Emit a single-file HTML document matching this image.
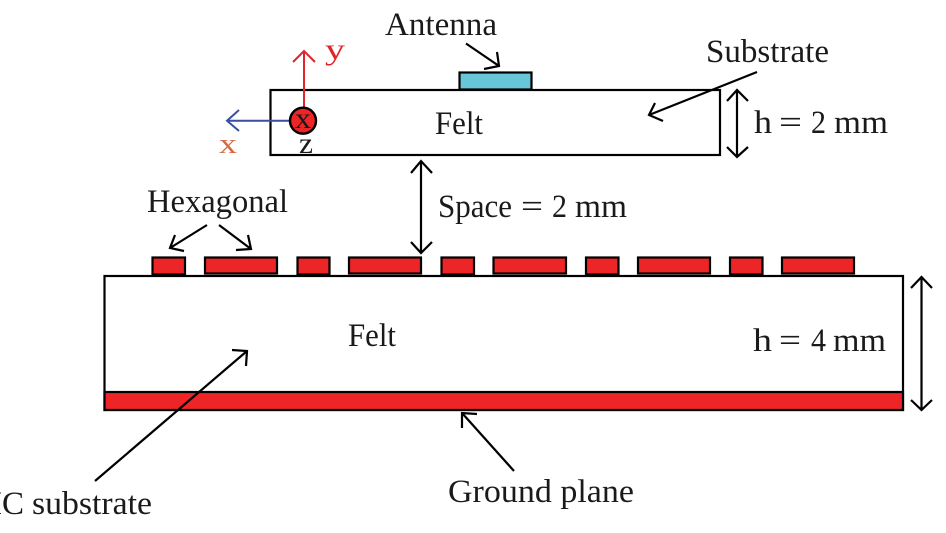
<!DOCTYPE html>
<html>
<head>
<meta charset="utf-8">
<style>
html,body{margin:0;padding:0;background:#fff;width:946px;height:533px;overflow:hidden}
svg{display:block}
text{font-family:"Liberation Serif",serif;font-size:33px;fill:#1a1a1a}
.l{fill:none;stroke:#000;stroke-width:2.2}
.r{fill:#ee2527;stroke:#000;stroke-width:2.2}
</style>
</head>
<body>
<svg width="946" height="533" viewBox="0 0 946 533" xmlns="http://www.w3.org/2000/svg">
<rect width="946" height="533" fill="#fff"/>

<!-- Top felt + antenna -->
<rect x="459.5" y="72.5" width="72" height="17" fill="#67c6d8" stroke="#000" stroke-width="2.2"/>
<rect x="270.5" y="90" width="449.5" height="65" class="l"/>

<!-- Axes -->
<path d="M304 108V51M293 62L304 51L315 62" fill="none" stroke="#e2232b" stroke-width="2"/>
<path d="M290 120.7H228M239 110L227 120.7L239 131" fill="none" stroke="#3a4f9f" stroke-width="2"/>
<circle cx="303" cy="120.7" r="13" fill="#ee2527" stroke="#000" stroke-width="2.4"/>
<text x="295" y="128" style="font-size:30px" textLength="16" lengthAdjust="spacingAndGlyphs">x</text>
<text x="325" y="59" style="font-size:30px;fill:#e2232b" textLength="20" lengthAdjust="spacingAndGlyphs">y</text>
<text x="219" y="153" style="font-size:28px;fill:#d9683f" textLength="18" lengthAdjust="spacingAndGlyphs">x</text>
<text x="299" y="153" style="font-size:30px" textLength="14" lengthAdjust="spacingAndGlyphs">z</text>

<!-- Patches -->
<g class="r">
<rect x="152.5" y="257.5" width="32.5" height="17"/>
<rect x="205" y="257.5" width="72" height="16"/>
<rect x="297.5" y="257.5" width="32" height="17"/>
<rect x="349" y="257.5" width="72" height="16"/>
<rect x="441.5" y="257.5" width="32.5" height="17"/>
<rect x="493.5" y="257.5" width="72.5" height="16"/>
<rect x="586" y="257.5" width="32.5" height="17"/>
<rect x="638" y="257.5" width="72" height="16"/>
<rect x="730" y="257.5" width="32.5" height="17"/>
<rect x="782" y="257.5" width="72" height="16"/>
</g>

<!-- Bottom felt + ground -->
<rect x="104.5" y="276" width="798.5" height="134" class="l"/>
<rect x="104.5" y="392" width="798.5" height="18" class="r"/>

<!-- Arrows -->
<g class="l">
<path d="M466 43.5L499 66M484 69L499 66L497 52"/>
<path d="M757 72L649 115M655 103L649 115L663 121"/>
<path d="M737 90V157M727 101L737 90L748 101M727 147L737 157L748 147"/>
<path d="M421 161V253M411 173L421 161L432 173M411 242L421 253L432 242"/>
<path d="M207 225L170 248M175 235L170 248L184 251"/>
<path d="M219 225L251 249M236 250L251 249L248 235"/>
<path d="M95 481L247 351M232 350L247 351L246 366"/>
<path d="M514 471L462 413M477 414L462 413L462 428"/>
<path d="M921.5 277V410M911 288L921.5 277L932 288M911 400L921.5 410L932 400"/>
</g>

<!-- Labels -->
<text x="385" y="35" textLength="112" lengthAdjust="spacingAndGlyphs">Antenna</text>
<text x="706" y="62" textLength="123" lengthAdjust="spacingAndGlyphs">Substrate</text>
<text x="435" y="134" textLength="48" lengthAdjust="spacingAndGlyphs">Felt</text>
<text x="348" y="346" textLength="48" lengthAdjust="spacingAndGlyphs">Felt</text>
<text x="147" y="212" textLength="141" lengthAdjust="spacingAndGlyphs">Hexagonal</text>

<text x="438" y="217" textLength="74" lengthAdjust="spacingAndGlyphs">Space</text>
<text x="521" y="217" textLength="22" lengthAdjust="spacingAndGlyphs">=</text>
<text x="552" y="217" textLength="15" lengthAdjust="spacingAndGlyphs">2</text>
<text x="575" y="217" textLength="52" lengthAdjust="spacingAndGlyphs">mm</text>

<text x="754" y="133" textLength="18" lengthAdjust="spacingAndGlyphs">h</text>
<text x="779" y="133" textLength="23" lengthAdjust="spacingAndGlyphs">=</text>
<text x="811" y="133" textLength="15" lengthAdjust="spacingAndGlyphs">2</text>
<text x="834" y="133" textLength="54" lengthAdjust="spacingAndGlyphs">mm</text>

<text x="753" y="351" textLength="19" lengthAdjust="spacingAndGlyphs">h</text>
<text x="779" y="351" textLength="22" lengthAdjust="spacingAndGlyphs">=</text>
<text x="811" y="351" textLength="15" lengthAdjust="spacingAndGlyphs">4</text>
<text x="833" y="351" textLength="53" lengthAdjust="spacingAndGlyphs">mm</text>

<text x="448" y="502" textLength="186" lengthAdjust="spacingAndGlyphs">Ground plane</text>
<text x="24" y="514" text-anchor="end">AMC</text>
<text x="32" y="514" textLength="120" lengthAdjust="spacingAndGlyphs">substrate</text>
</svg>
</body>
</html>
